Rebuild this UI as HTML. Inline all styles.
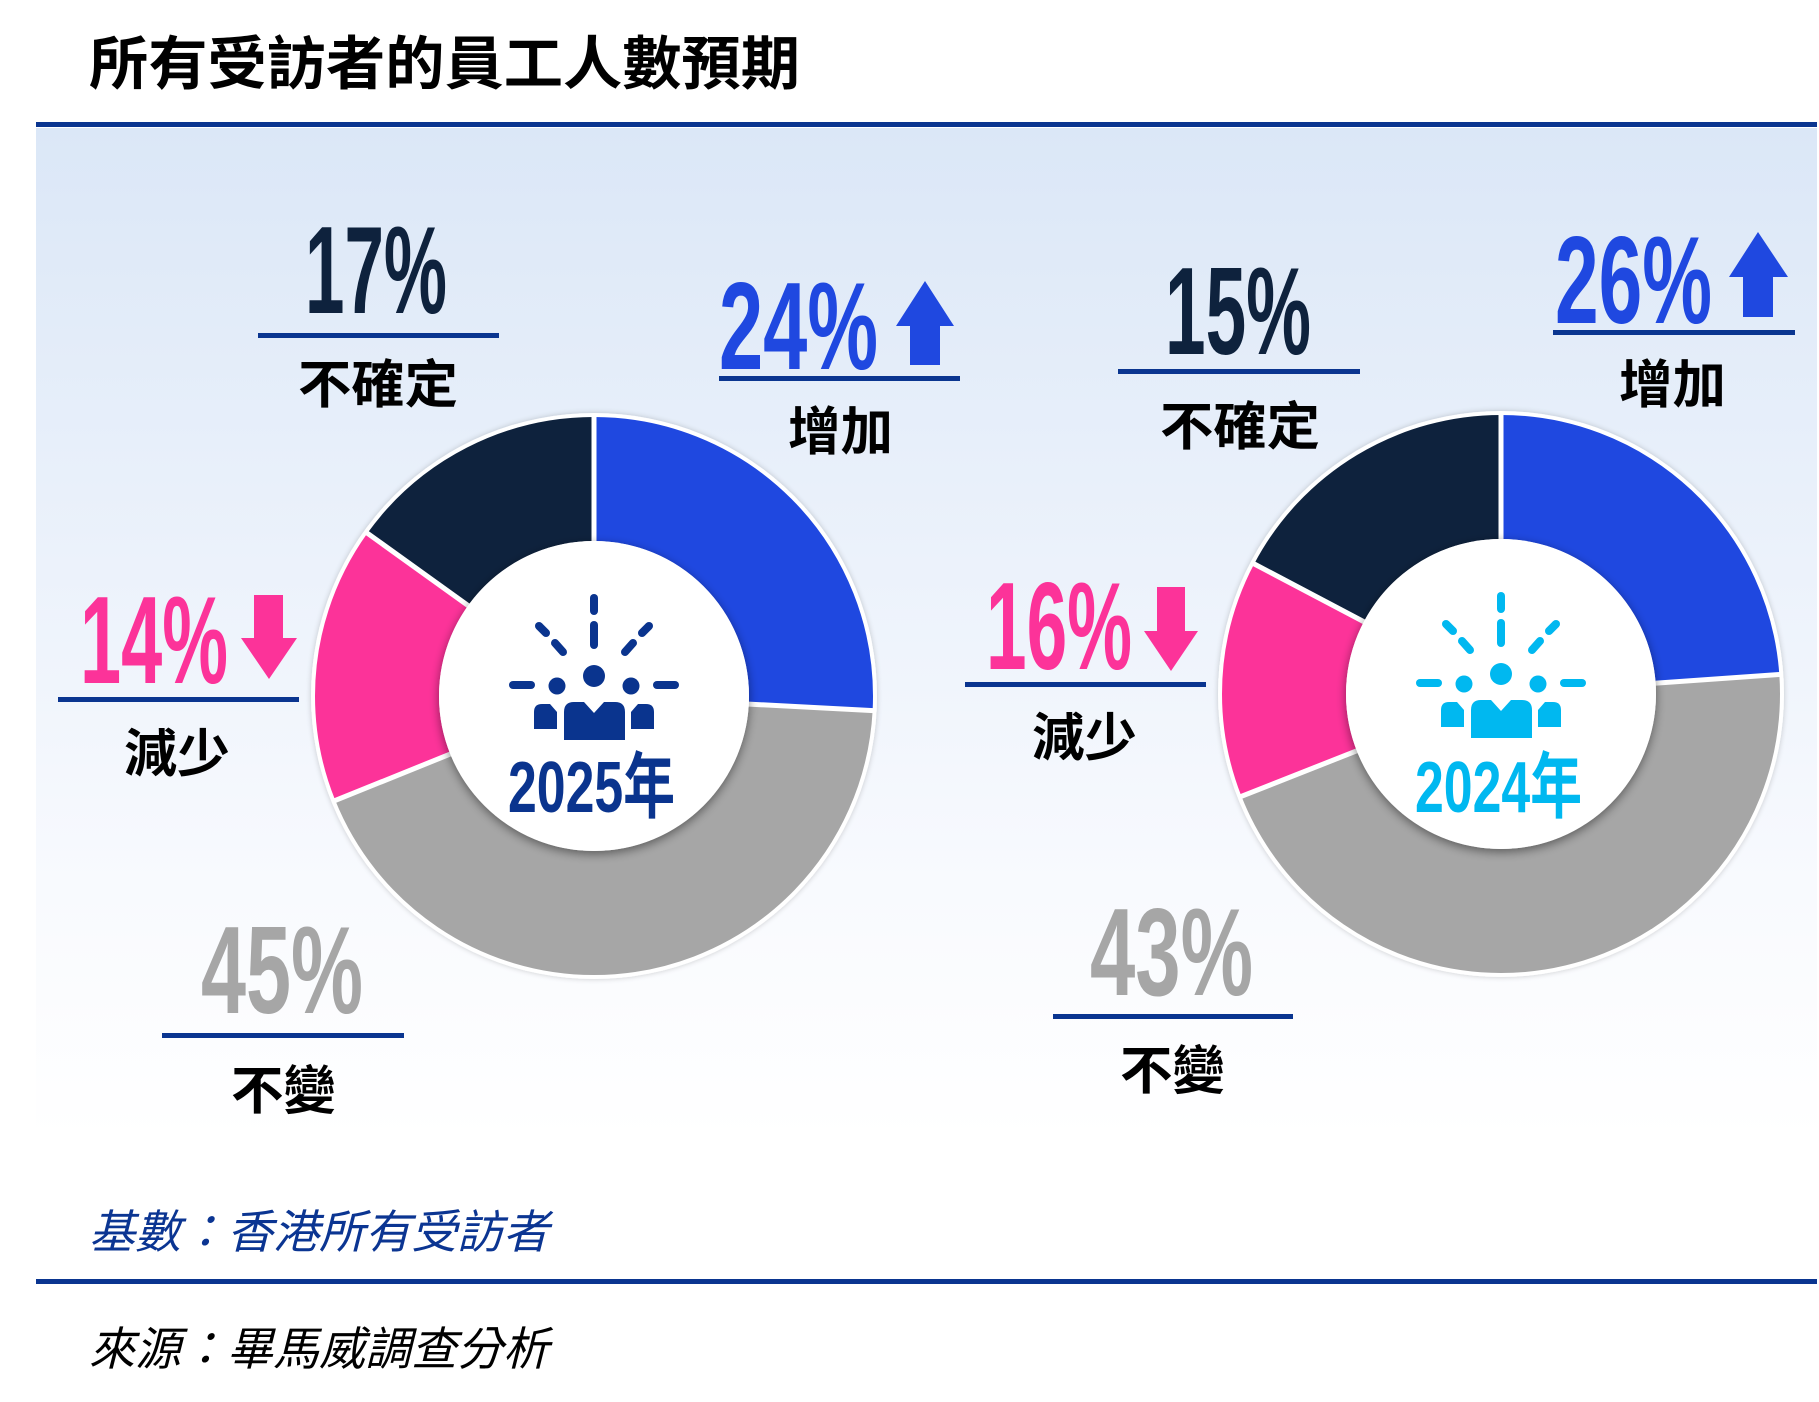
<!DOCTYPE html>
<html><head><meta charset="utf-8"><style>
html,body{margin:0;padding:0;background:#fff;}
svg{display:block;}
.p{font-family:"Liberation Sans",sans-serif;font-weight:bold;}
.c{font-family:"Liberation Sans","Noto Sans CJK TC",sans-serif;font-weight:bold;}
</style></head><body>
<svg width="1819" height="1402" viewBox="0 0 1819 1402" xmlns="http://www.w3.org/2000/svg">
<defs>
<linearGradient id="bg" x1="0" y1="0" x2="0" y2="1">
<stop offset="0" stop-color="#dbe7f7"/><stop offset="0.75" stop-color="#f8fafe"/><stop offset="1" stop-color="#ffffff"/>
</linearGradient>
<filter id="sh" x="-20%" y="-20%" width="140%" height="140%"><feGaussianBlur in="SourceAlpha" stdDeviation="5"/><feOffset dx="0" dy="3"/><feComponentTransfer><feFuncA type="linear" slope="0.45"/></feComponentTransfer><feMerge><feMergeNode/><feMergeNode in="SourceGraphic"/></feMerge></filter>
<filter id="sh2" x="-10%" y="-10%" width="120%" height="120%"><feGaussianBlur in="SourceAlpha" stdDeviation="3"/><feComponentTransfer><feFuncA type="linear" slope="0.2"/></feComponentTransfer><feMerge><feMergeNode/><feMergeNode in="SourceGraphic"/></feMerge></filter>
</defs>
<rect x="36" y="128" width="1781" height="1010" fill="url(#bg)"/>
<rect x="36" y="122" width="1781" height="5" fill="#0a3590"/>
<rect x="36" y="1279" width="1781" height="5" fill="#0a3590"/>

<text class="c" x="89" y="84" font-size="58" textLength="711" lengthAdjust="spacingAndGlyphs" fill="#000">所有受訪者的員工人數預期</text>

<!-- Donut 1 -->
<circle cx="594" cy="696" r="283" fill="#fff" filter="url(#sh2)"/>
<g transform="rotate(-90 594 696)" fill="none" stroke-width="124">
<circle cx="594" cy="696" r="217" stroke="#1f48e0" stroke-dasharray="352.2 2000" stroke-dashoffset="0"/>
<circle cx="594" cy="696" r="217" stroke="#a6a6a6" stroke-dasharray="587.05 2000" stroke-dashoffset="-352.2"/>
<circle cx="594" cy="696" r="217" stroke="#fc3399" stroke-dasharray="218.5 2000" stroke-dashoffset="-939.3"/>
<circle cx="594" cy="696" r="217" stroke="#0e223d" stroke-dasharray="205.7 2000" stroke-dashoffset="-1157.8"/>
</g>
<g stroke="#fff" stroke-width="5">
<line x1="594" y1="696" x2="594" y2="414"/><line x1="594" y1="696" x2="875.6" y2="710.7"/>
<line x1="594" y1="696" x2="332.5" y2="801.6"/><line x1="594" y1="696" x2="365" y2="531.5"/>
</g>
<circle cx="594" cy="696" r="155" fill="#fff" filter="url(#sh)"/>
<g id="ic1" fill="#0a348e" stroke="#0a348e">
<g stroke-width="8" stroke-linecap="round" fill="none">
<line x1="594" y1="598" x2="594" y2="611"/><line x1="594" y1="625" x2="594" y2="645"/>
<line x1="539" y1="626" x2="546" y2="633"/><line x1="555" y1="643" x2="563" y2="652"/>
<line x1="649" y1="626" x2="642" y2="633"/><line x1="633" y1="643" x2="625" y2="652"/>
<line x1="513" y1="685" x2="531" y2="685"/><line x1="657" y1="685" x2="675" y2="685"/>
</g>
<g stroke="none">
<circle cx="594" cy="676" r="11"/><circle cx="557" cy="686" r="8.5"/><circle cx="631" cy="686" r="8.5"/>
<path d="M564,740 V712 Q564,702 574,702 L584,702 L594,713 L604,702 L615,702 Q625,702 625,712 V740 Z"/>
<path d="M534,729 V712 Q534,704 542,704 L550,704 L557,712 V729 Z"/>
<path d="M654,729 V712 Q654,704 646,704 L638,704 L631,712 V729 Z"/>
</g>
</g>
<text class="c" x="508" y="812" font-size="72" textLength="167" lengthAdjust="spacingAndGlyphs" fill="#0a348e">2025年</text>

<!-- Donut 2 -->
<circle cx="1501" cy="694" r="283" fill="#fff" filter="url(#sh2)"/>
<g transform="rotate(-90 1501 694)" fill="none" stroke-width="124">
<circle cx="1501" cy="694" r="217" stroke="#1f48e0" stroke-dasharray="325.7 2000" stroke-dashoffset="0"/>
<circle cx="1501" cy="694" r="217" stroke="#a6a6a6" stroke-dasharray="615.5 2000" stroke-dashoffset="-325.7"/>
<circle cx="1501" cy="694" r="217" stroke="#fc3399" stroke-dasharray="186.7 2000" stroke-dashoffset="-941.2"/>
<circle cx="1501" cy="694" r="217" stroke="#0e223d" stroke-dasharray="235.6 2000" stroke-dashoffset="-1127.9"/>
</g>
<g stroke="#fff" stroke-width="5">
<line x1="1501" y1="694" x2="1501" y2="412"/><line x1="1501" y1="694" x2="1782.3" y2="674.3"/>
<line x1="1501" y1="694" x2="1238.6" y2="797.4"/><line x1="1501" y1="694" x2="1251.5" y2="562.5"/>
</g>
<circle cx="1501" cy="694" r="155" fill="#fff" filter="url(#sh)"/>
<g transform="translate(907,-2)" fill="#00b8f0" stroke="#00b8f0">
<g stroke-width="8" stroke-linecap="round" fill="none">
<line x1="594" y1="598" x2="594" y2="611"/><line x1="594" y1="625" x2="594" y2="645"/>
<line x1="539" y1="626" x2="546" y2="633"/><line x1="555" y1="643" x2="563" y2="652"/>
<line x1="649" y1="626" x2="642" y2="633"/><line x1="633" y1="643" x2="625" y2="652"/>
<line x1="513" y1="685" x2="531" y2="685"/><line x1="657" y1="685" x2="675" y2="685"/>
</g>
<g stroke="none">
<circle cx="594" cy="676" r="11"/><circle cx="557" cy="686" r="8.5"/><circle cx="631" cy="686" r="8.5"/>
<path d="M564,740 V712 Q564,702 574,702 L584,702 L594,713 L604,702 L615,702 Q625,702 625,712 V740 Z"/>
<path d="M534,729 V712 Q534,704 542,704 L550,704 L557,712 V729 Z"/>
<path d="M654,729 V712 Q654,704 646,704 L638,704 L631,712 V729 Z"/>
</g>
</g>
<text class="c" x="1415" y="812" font-size="72" textLength="167" lengthAdjust="spacingAndGlyphs" fill="#00b8f0">2024年</text>

<!-- Labels donut 1 -->
<text class="p" x="305" y="313" font-size="124" textLength="142" lengthAdjust="spacingAndGlyphs" fill="#0e223d">17%</text>
<rect x="258" y="333" width="241" height="5" fill="#0a3590"/>
<text class="c" x="298" y="403" font-size="52" textLength="160" lengthAdjust="spacingAndGlyphs" fill="#000">不確定</text>

<text class="p" x="719" y="369" font-size="124" textLength="159" lengthAdjust="spacingAndGlyphs" fill="#1f48e0">24%</text>
<polygon points="925,281 954,326 940,326 940,365 910,365 910,326 896,326" fill="#1f48e0"/>
<rect x="719" y="376" width="241" height="5" fill="#0a3590"/>
<text class="c" x="788" y="450" font-size="52" textLength="105" lengthAdjust="spacingAndGlyphs" fill="#000">增加</text>

<text class="p" x="80" y="683" font-size="124" textLength="148" lengthAdjust="spacingAndGlyphs" fill="#fc3399">14%</text>
<polygon points="254,595 283,595 283,638 297,638 269,679 241,638 254,638" fill="#fc3399"/>
<rect x="58" y="697" width="241" height="5" fill="#0a3590"/>
<text class="c" x="124" y="772" font-size="52" textLength="106" lengthAdjust="spacingAndGlyphs" fill="#000">減少</text>

<text class="p" x="201" y="1013" font-size="124" textLength="162" lengthAdjust="spacingAndGlyphs" fill="#a6a6a6">45%</text>
<rect x="162" y="1033" width="242" height="5" fill="#0a3590"/>
<text class="c" x="231" y="1109" font-size="52" textLength="105" lengthAdjust="spacingAndGlyphs" fill="#000">不變</text>

<!-- Labels donut 2 -->
<text class="p" x="1165" y="354" font-size="124" textLength="146" lengthAdjust="spacingAndGlyphs" fill="#0e223d">15%</text>
<rect x="1118" y="369" width="242" height="5" fill="#0a3590"/>
<text class="c" x="1160" y="445" font-size="52" textLength="160" lengthAdjust="spacingAndGlyphs" fill="#000">不確定</text>

<text class="p" x="1555" y="323" font-size="124" textLength="157" lengthAdjust="spacingAndGlyphs" fill="#1f48e0">26%</text>
<polygon points="1758,232 1788,277 1773,277 1773,317 1743,317 1743,277 1729,277" fill="#1f48e0"/>
<rect x="1553" y="330" width="242" height="5" fill="#0a3590"/>
<text class="c" x="1619" y="403" font-size="52" textLength="107" lengthAdjust="spacingAndGlyphs" fill="#000">增加</text>

<text class="p" x="986" y="669" font-size="124" textLength="146" lengthAdjust="spacingAndGlyphs" fill="#fc3399">16%</text>
<polygon points="1157,587 1185,587 1185,631 1198,631 1171,671 1144,631 1157,631" fill="#fc3399"/>
<rect x="965" y="682" width="241" height="5" fill="#0a3590"/>
<text class="c" x="1032" y="756" font-size="52" textLength="105" lengthAdjust="spacingAndGlyphs" fill="#000">減少</text>

<text class="p" x="1090" y="995" font-size="124" textLength="163" lengthAdjust="spacingAndGlyphs" fill="#a6a6a6">43%</text>
<rect x="1053" y="1014" width="240" height="5" fill="#0a3590"/>
<text class="c" x="1120" y="1089" font-size="52" textLength="105" lengthAdjust="spacingAndGlyphs" fill="#000">不變</text>

<!-- Footers -->
<text x="89" y="1248" font-family="'Liberation Sans','Noto Sans CJK TC',sans-serif" font-style="italic" font-size="46" textLength="460" lengthAdjust="spacingAndGlyphs" fill="#0b3592">基數：香港所有受訪者</text>
<text x="89" y="1365" font-family="'Liberation Sans','Noto Sans CJK TC',sans-serif" font-style="italic" font-size="46" textLength="460" lengthAdjust="spacingAndGlyphs" fill="#000">來源：畢馬威調查分析</text>
</svg>
</body></html>
